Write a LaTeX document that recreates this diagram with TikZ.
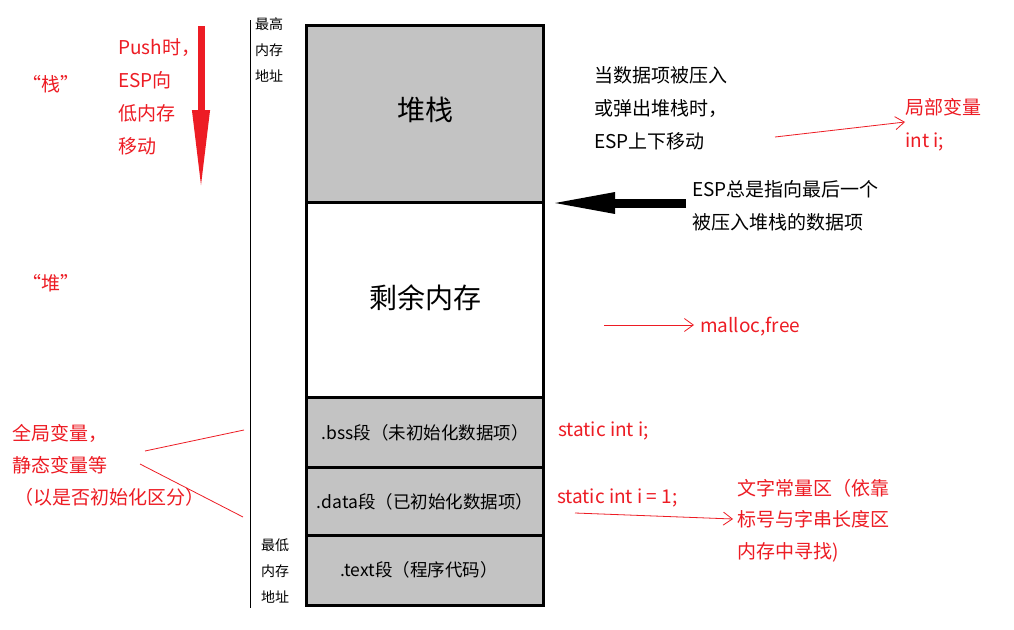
\documentclass[tikz,border=0pt]{standalone}
\usepackage{fontspec}
\setmainfont{Noto Sans CJK SC}
\usetikzlibrary{arrows.meta,positioning}
\definecolor{paintred}{HTML}{ED1C24}
\definecolor{seggray} {HTML}{C3C3C3}
\tikzset{
  every node/.style={inner sep=0pt},
  % --- memory segments
  seg/.style    = {draw=black, line width=3pt, minimum width=237pt, anchor=north west},
  seggr/.style  = {seg, fill=seggray},
  segtxt/.style = {font=\fontsize{17.5pt}{20pt}\selectfont},
  big/.style    = {font=\fontsize{28pt}{32pt}\selectfont},
  % --- labels
  lbl/.style    = {anchor=west, align=left, font=\fontsize{19pt}{33pt}\selectfont},
  redlbl/.style = {lbl, text=paintred},
  addr/.style   = {anchor=west, align=left, font=\fontsize{14pt}{26pt}\selectfont},
  % --- edges
  rarrow/.style = {draw=paintred, line width=0.8pt, -{Straight Barb[length=9pt,width=13pt]}},
  rline/.style  = {draw=paintred, line width=0.8pt},
}

\begin{document}
\begin{tikzpicture}[x=1pt,y=-1pt]
  \useasboundingbox[fill=white] (0,0) rectangle (1014,629);

  % address axis
  \draw[line width=0.8pt] (250,20) -- (250,608);
  \node[addr] (hiaddr) at (255,50) {最高\\内存\\地址};
  \node[addr] (loaddr) at (261,571.5) {最低\\内存\\地址};

  % segments, top to bottom
  \node[seggr, minimum height=177pt] (stack) at (305,24) {};
  \node[seg, minimum height=195pt] (rest) at (305,201) {};
  \node[seggr, minimum height=70pt] (bss) at (305,396) {};
  \node[seggr, minimum height=68pt] (data) at (305,466) {};
  \node[seggr, minimum height=70pt] (text) at (305,534) {};
  \node[big] (stacktxt) at ([yshift=4pt]stack.center) {堆栈};
  \node[big] (resttxt) at ([yshift=2pt]rest.center) {剩余内存};
  \node[segtxt] (bsstxt) at (bss.center) {.bss段（未初始化数据项）};
  \node[segtxt] (datatxt) at (data.center) {.data段（已初始化数据项）};
  \node[segtxt] (texttxt) at ([xshift=-6pt,yshift=1pt]text.center) {.text段（程序代码）};

  % left side
  \node[redlbl] (zhan) at (22,84) {“栈”};
  \node[redlbl] (dui) at (22,283) {“堆”};
  \node[redlbl] (push) at (118,96.5) {Push时，\\ESP向\\低内存\\移动};
  \coordinate (pushtop) at (201,26);
  \coordinate (pushend) at (201,192);
  \draw[paintred, line width=7pt, -{Triangle[length=82pt,width=16pt]}] (pushtop) -- (pushend);

  \node[redlbl, font=\fontsize{19pt}{32pt}\selectfont] (glob) at (12,465)
    {全局变量，\\静态变量等\\\hspace{2pt}（以是否初始化区分）};
  \coordinate (globa) at (145,451);
  \coordinate (globb) at (140,464);
  \coordinate (bssl) at (244,430);
  \coordinate (datal) at (243,517);
  \draw[rline] (globa) -- (bssl);
  \draw[rline] (globb) -- (datal);

  % right side
  \node[lbl] (move) at (594,108) {当数据项被压入\\或弹出堆栈时，\\ESP上下移动};
  \node[redlbl] (local) at (905,124.5) {局部变量\\int i;};
  \coordinate (locala) at (775,137);
  \draw[rarrow] (locala) -- (local.west |- 0,122);

  \node[lbl] (esp) at (692,205.5) {ESP总是指向最后一个\\被压入堆栈的数据项};
  \coordinate (espa) at (686,203);
  \coordinate (espb) at (548,203);
  \draw[line width=9pt, -{Triangle[length=67pt,width=19pt]}] (espa) -- (espb);

  \node[redlbl] (heap) at (700,327) {malloc,free};
  \coordinate (heapa) at (604,325);
  \draw[rarrow] (heapa) -- ([xshift=-6pt]heap.west |- 0,325);

  \node[redlbl] (sbss) at (558,431) {static int i;};
  \node[redlbl] (sdata) at (557,498) {static int i = 1;};
  \node[redlbl, font=\fontsize{19pt}{31.5pt}\selectfont] (lit) at (737,520.5)
    {文字常量区（依靠\\标号与字串长度区\\内存中寻找)};
  \coordinate (lita) at (575,513);
  \draw[rarrow] (lita) -- ([xshift=-4pt]lit.west |- 0,519);
\end{tikzpicture}
\end{document}
